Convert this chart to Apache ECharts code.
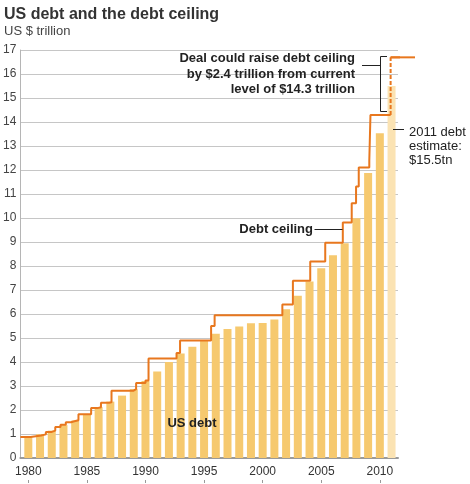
<!DOCTYPE html>
<html>
<head>
<meta charset="utf-8">
<script src="https://cdn.jsdelivr.net/npm/echarts@6.0.0/dist/echarts.min.js"></script>
<style>
html,body{margin:0;padding:0;background:#fff;}
#chart{width:470px;height:484px;}
</style>
</head>
<body>
<div id="chart"></div>
<script>
// ---- data ----
const debtYears = [1980,1981,1982,1983,1984,1985,1986,1987,1988,1989,1990,1991,1992,1993,1994,1995,1996,1997,1998,1999,2000,2001,2002,2003,2004,2005,2006,2007,2008,2009,2010];
const debtValues = [0.91,0.99,1.14,1.37,1.56,1.82,2.12,2.35,2.60,2.87,3.21,3.60,4.00,4.35,4.64,4.92,5.18,5.37,5.48,5.61,5.63,5.77,6.20,6.76,7.35,7.91,8.45,8.95,9.99,11.88,13.53];
const estimateYear = 2011;
const estimateValue = 15.5;

const ceilingDates = [1979.32,1980.2,1981.1,1981.5,1981.95,1982.3,1982.75,1983.2,1983.65,1983.85,1984.28,1985.36,1985.9,1986.2,1986.9,1987.1,1988.95,1989.2,1990.0,1990.26,1992.65,1992.95,1995.6,1995.9,2001.68,2002.58,2004.06,2005.34,2006.84,2007.6,2007.97,2008.2,2009.1,2009.2,2010.92];
const ceilingValues = [0.879,0.935,0.985,1.079,1.143,1.290,1.389,1.490,1.520,1.573,1.823,2.079,2.111,2.300,2.320,2.800,2.870,3.123,3.230,4.145,4.370,4.900,5.500,5.950,6.400,7.384,8.184,8.965,9.815,10.615,11.315,12.104,12.394,14.294,14.294];
const dealDate = 2010.92;
const dealValue = 16.694;
const dealLineEnd = 2013.0;

const xTickLabels = [1980,1985,1990,1995,2000,2005,2010];
const yTickLabels = [0,1,2,3,4,5,6,7,8,9,10,11,12,13,14,15,16,17];

// ---- chart ----
const FONT = '"Liberation Sans", Arial, Helvetica, sans-serif';
const ORANGE = '#E8771E';
const BAR = '#F6C96F';
const BAR_EST = '#FBE3B3';

const barData = debtYears.map((y, i) => [y, debtValues[i]]);
barData.push({ value: [estimateYear, estimateValue], itemStyle: { color: BAR_EST } });
const ceilingData = ceilingDates.map((d, i) => [d, ceilingValues[i]]);
const lastCeiling = ceilingValues[ceilingValues.length - 1];

const chart = echarts.init(document.getElementById('chart'), null, { renderer: 'canvas' });
chart.setOption({
  animation: false,
  backgroundColor: '#fff',
  textStyle: { fontFamily: FONT },
  title: [
    { text: 'US debt and the debt ceiling', left: 4, top: 7, padding: 0,
      textStyle: { fontSize: 16, fontWeight: 'bold', color: '#333', fontFamily: FONT } },
    { text: 'US $ trillion', left: 4, top: 25, padding: 0,
      textStyle: { fontSize: 13, fontWeight: 'normal', color: '#444', fontFamily: FONT } }
  ],
  grid: { left: 19, right: 72, top: 50, bottom: 26 },
  xAxis: [{
    type: 'value', min: 1979.32, max: 2011.55,
    splitLine: { show: false },
    axisLine: { show: true, lineStyle: { color: '#9a9a9a', width: 2 } },
    axisTick: { show: false },
    axisLabel: { customValues: xTickLabels, formatter: v => String(v), color: '#333', fontSize: 12, margin: 8, fontFamily: FONT }
  }, {
    type: 'value', min: 1979.32, max: 2011.55, position: 'bottom', offset: 22,
    splitLine: { show: false },
    axisLine: { show: false },
    axisTick: { show: true, customValues: xTickLabels, length: 3, lineStyle: { color: '#999' } },
    axisLabel: { show: false }
  }],
  yAxis: {
    type: 'value', min: 0, max: 17, interval: 1,
    axisLine: { show: true, lineStyle: { color: '#b5b5b5', width: 1 } },
    axisTick: { show: false },
    splitLine: { lineStyle: { color: '#c6c6c6', width: 1 } },
    axisLabel: { color: '#444', fontSize: 12, margin: 4, fontFamily: FONT,
      formatter: v => yTickLabels.indexOf(v) >= 0 ? String(v) : '' }
  },
  series: [
    { type: 'bar', data: barData, barWidth: 8, itemStyle: { color: BAR }, z: 2 },
    { type: 'line', data: ceilingData, step: 'end', showSymbol: false, symbol: 'none',
      lineStyle: { color: ORANGE, width: 2 }, z: 3, clip: false },
    { type: 'line', data: [[dealDate, lastCeiling], [dealDate, dealValue]], showSymbol: false, symbol: 'none',
      lineStyle: { color: ORANGE, width: 2, type: [4, 2] }, z: 3, clip: false },
    { type: 'line', data: [[dealDate, dealValue], [dealLineEnd, dealValue]], showSymbol: false, symbol: 'none',
      lineStyle: { color: ORANGE, width: 2 }, z: 3, clip: false }
  ],
  graphic: [
    { id: 'dealText', type: 'text', x: 355, y: 51, z: 10,
      style: { text: 'Deal could raise debt ceiling\nby $2.4 trillion from current\nlevel of $14.3 trillion',
        fill: '#222', font: 'bold 13px ' + FONT, align: 'right', textAlign: 'right',
        verticalAlign: 'top', textVerticalAlign: 'top', lineHeight: 15.5 } },
    { id: 'dealConn', type: 'line', z: 10, shape: { x1: 362, y1: 65.5, x2: 380.5, y2: 65.5 }, style: { stroke: '#222', lineWidth: 1 } },
    { id: 'bracket', type: 'polyline', z: 10, shape: { points: [[387, 56.5], [380.5, 56.5], [380.5, 111.5], [387, 111.5]] },
      style: { stroke: '#222', lineWidth: 1, fill: null } },
    { id: 'estConn', type: 'line', z: 10, shape: { x1: 393, y1: 129.5, x2: 404, y2: 129.5 }, style: { stroke: '#222', lineWidth: 1 } },
    { id: 'estText', type: 'text', x: 409, y: 125, z: 10,
      style: { text: '2011 debt\nestimate:\n$15.5tn', fill: '#222', font: '13px ' + FONT,
        align: 'left', textAlign: 'left', verticalAlign: 'top', textVerticalAlign: 'top', lineHeight: 14.3 } },
    { id: 'ceilText', type: 'text', x: 313, y: 229, z: 10,
      style: { text: 'Debt ceiling', fill: '#222', font: 'bold 13px ' + FONT,
        align: 'right', textAlign: 'right', verticalAlign: 'middle', textVerticalAlign: 'middle' } },
    { id: 'ceilConn', type: 'line', z: 10, shape: { x1: 314.5, y1: 229.5, x2: 342.5, y2: 229.5 }, style: { stroke: '#222', lineWidth: 1 } },
    { id: 'debtText', type: 'text', x: 192, y: 423, z: 10,
      style: { text: 'US debt', fill: '#222', font: 'bold 13px ' + FONT,
        align: 'center', textAlign: 'center', verticalAlign: 'middle', textVerticalAlign: 'middle' } }
  ]
});

// The new-ceiling line runs past the plot's right edge; place it through the axis scales.
const pA = chart.convertToPixel({ gridIndex: 0 }, [dealDate, dealValue]);
const pB = chart.convertToPixel({ gridIndex: 0 }, [dealLineEnd, dealValue]);
if (pA && pB) {
  chart.setOption({
    graphic: [{ id: 'dealExt', type: 'line', z: 5,
      shape: { x1: pA[0], y1: pA[1], x2: pB[0], y2: pB[1] },
      style: { stroke: ORANGE, lineWidth: 2 } }]
  });
}
</script>
</body>
</html>
